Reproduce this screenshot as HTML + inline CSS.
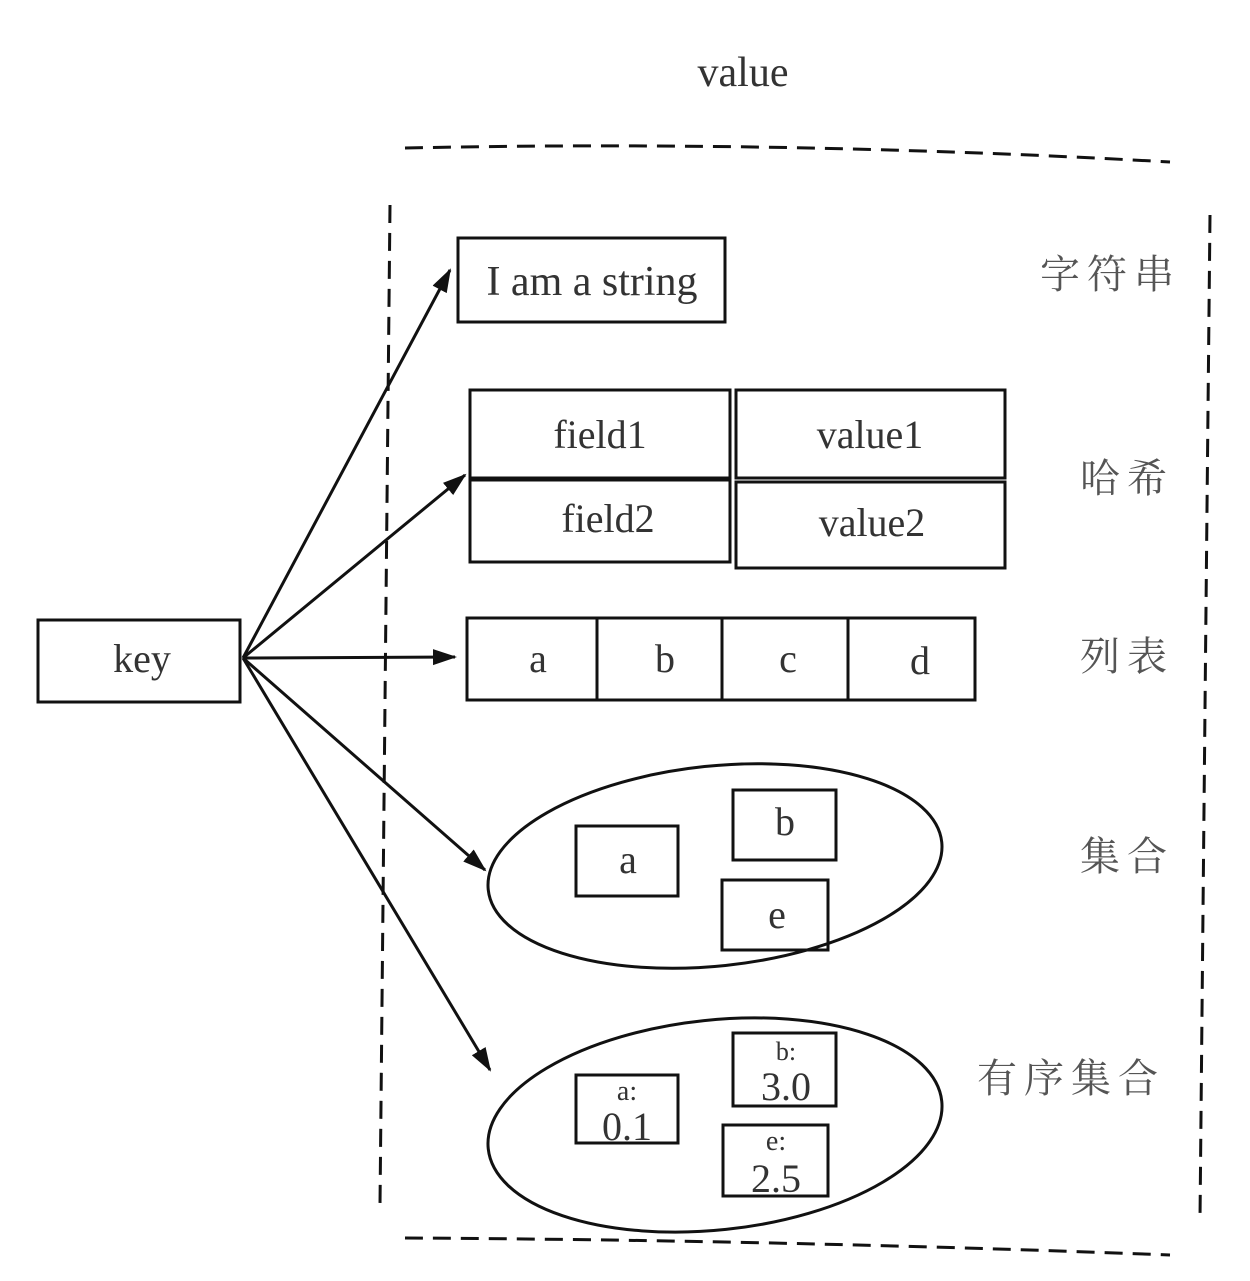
<!DOCTYPE html>
<html><head><meta charset="utf-8"><style>
html,body{margin:0;padding:0;background:#fff;}
svg{display:block;}
.t{font-family:"Liberation Serif",serif;fill:#333;}
.c{font-family:"Liberation Serif","Noto Serif CJK SC",serif;fill:#555;font-size:40px;letter-spacing:7px;}
</style></head><body>
<svg width="1250" height="1281" viewBox="0 0 1250 1281" xmlns="http://www.w3.org/2000/svg">
<defs><marker id="ar" markerWidth="24" markerHeight="20" refX="22" refY="8" orient="auto" markerUnits="userSpaceOnUse" viewBox="0 0 24 16">
<path d="M0,0 L24,8 L0,16 z" fill="#111"/></marker></defs>
<g fill="none" stroke="#111" stroke-width="3" stroke-dasharray="18,10">
<path d="M405,148 Q780,140 1170,162"/>
<path d="M390,205 Q385,700 380,1205"/>
<path d="M1210,215 Q1205,700 1200,1220"/>
<path d="M405,1238 Q780,1240 1170,1255"/>
</g>
<text class="t" x="743" y="86" font-size="42" text-anchor="middle">value</text>
<g fill="none" stroke="#111" stroke-width="3">
<rect x="38" y="620" width="202" height="82"/>
<rect x="458" y="238" width="267" height="84"/>
<rect x="470" y="390" width="260" height="88"/>
<rect x="736" y="390" width="269" height="88"/>
<rect x="470" y="480" width="260" height="82"/>
<rect x="736" y="482" width="269" height="86"/>
<rect x="467" y="618" width="508" height="82"/>
<line x1="597" y1="618" x2="597" y2="700"/>
<line x1="722" y1="618" x2="722" y2="700"/>
<line x1="848" y1="618" x2="848" y2="700"/>
<ellipse cx="715" cy="866" rx="228" ry="100" transform="rotate(-6 715 866)"/>
<rect x="576" y="826" width="102" height="70"/>
<rect x="733" y="790" width="103" height="70"/>
<rect x="722" y="880" width="106" height="70"/>
<ellipse cx="715" cy="1125" rx="228" ry="105" transform="rotate(-6 715 1125)"/>
<rect x="576" y="1075" width="102" height="68"/>
<rect x="733" y="1033" width="103" height="73"/>
<rect x="723" y="1125" width="105" height="71"/>
</g>
<g stroke="#111" stroke-width="3" marker-end="url(#ar)">
<line x1="243" y1="658" x2="450" y2="270"/>
<line x1="243" y1="658" x2="465" y2="475"/>
<line x1="243" y1="658" x2="455" y2="657"/>
<line x1="243" y1="658" x2="485" y2="870"/>
<line x1="243" y1="658" x2="490" y2="1070"/>
</g>
<g class="t" text-anchor="middle" font-size="40">
<text x="142" y="672">key</text>
<text x="592" y="295" font-size="42">I am a string</text>
<text x="600" y="448">field1</text>
<text x="870" y="448">value1</text>
<text x="608" y="532">field2</text>
<text x="872" y="536">value2</text>
<text x="538" y="672">a</text>
<text x="665" y="672">b</text>
<text x="788" y="672">c</text>
<text x="920" y="674">d</text>
<text x="628" y="873">a</text>
<text x="785" y="835">b</text>
<text x="777" y="928">e</text>
<text x="627" y="1100" font-size="28">a:</text>
<text x="627" y="1140">0.1</text>
<text x="786" y="1060" font-size="26">b:</text>
<text x="786" y="1100">3.0</text>
<text x="776" y="1150" font-size="28">e:</text>
<text x="776" y="1192">2.5</text>
</g>
<text class="c" x="1040" y="288">字符串</text>
<text class="c" x="1080" y="492">哈希</text>
<text class="c" x="1080" y="670">列表</text>
<text class="c" x="1080" y="870">集合</text>
<text class="c" x="977" y="1092">有序集合</text>
</svg>
</body></html>
